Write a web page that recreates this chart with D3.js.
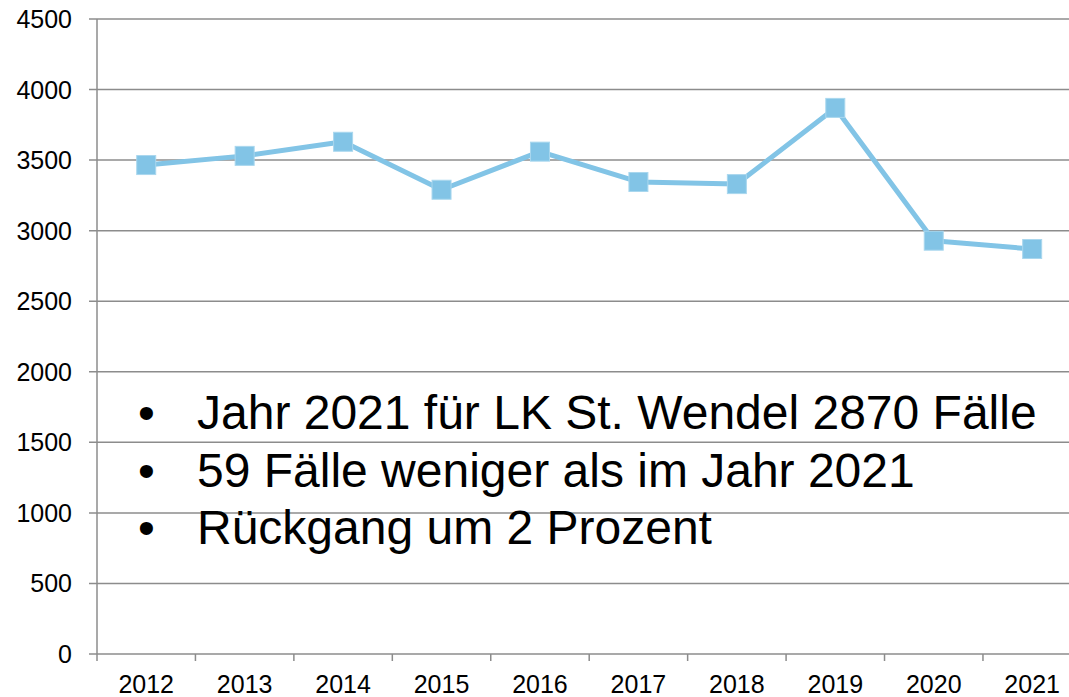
<!DOCTYPE html>
<html>
<head>
<meta charset="utf-8">
<script src="https://cdn.jsdelivr.net/npm/d3@7"></script>
<style>
  html, body { margin: 0; padding: 0; background: #fff; overflow: hidden; }
  svg { display: block; font-family: "Liberation Sans", Arial, sans-serif; }
</style>
</head>
<body>
<div id="chart"></div>
<script>
const years = ["2012", "2013", "2014", "2015", "2016", "2017", "2018", "2019", "2020", "2021"];
const cases = [3465, 3530, 3630, 3290, 3560, 3345, 3330, 3870, 2929, 2870];
const yTicks = [0, 500, 1000, 1500, 2000, 2500, 3000, 3500, 4000, 4500];
const notes = [
  "Jahr 2021 für LK St. Wendel 2870 Fälle",
  "59 Fälle weniger als im Jahr 2021",
  "Rückgang um 2 Prozent"
];

const width = 1069;
const height = 697;
const left = 97;
const step = 98.44;

const svg = d3.select("#chart")
  .append("svg")
  .attr("width", width)
  .attr("height", height);

const x = d3.scaleBand()
  .domain(years)
  .range([left, left + step * years.length]);

const y = d3.scaleLinear()
  .domain([0, 4500])
  .range([654, 19]);

// gridlines
svg.append("g")
  .selectAll("line")
  .data(yTicks)
  .enter()
  .append("line")
  .attr("x1", left - 8)
  .attr("x2", width)
  .attr("y1", (d) => y(d))
  .attr("y2", (d) => y(d))
  .style("stroke", "#8c8c8c")
  .style("stroke-width", 1.5);

// y axis line
svg.append("line")
  .attr("x1", left)
  .attr("x2", left)
  .attr("y1", y(4500))
  .attr("y2", y(0))
  .style("stroke", "#8c8c8c")
  .style("stroke-width", 1.5);

// y tick labels
svg.append("g")
  .selectAll("text")
  .data(yTicks)
  .enter()
  .append("text")
  .attr("x", 72)
  .attr("y", (d) => y(d))
  .attr("dy", "0.36em")
  .attr("text-anchor", "end")
  .style("font-size", "25px")
  .style("fill", "#000")
  .text((d) => d);

// x tick marks between categories
svg.append("g")
  .selectAll("line")
  .data(years)
  .enter()
  .append("line")
  .attr("x1", (d) => x(d))
  .attr("x2", (d) => x(d))
  .attr("y1", y(0))
  .attr("y2", y(0) + 7)
  .style("stroke", "#8c8c8c")
  .style("stroke-width", 1.5);

// x labels (sit right at the bottom edge, as in the original slide)
svg.append("g")
  .selectAll("text")
  .data(years)
  .enter()
  .append("text")
  .attr("x", (d) => x(d) + x.bandwidth() / 2)
  .attr("y", 693)
  .attr("text-anchor", "middle")
  .style("font-size", "25px")
  .style("fill", "#000")
  .text((d) => d);

// series
const points = years.map((yr, i) => ({ year: yr, value: cases[i] }));

const line = d3.line()
  .x((d) => x(d.year) + x.bandwidth() / 2)
  .y((d) => y(d.value));

svg.append("path")
  .datum(points)
  .attr("d", line)
  .style("fill", "none")
  .style("stroke", "#82c4e6")
  .style("stroke-width", 5)
  .style("stroke-linejoin", "round");

const size = 19;
svg.append("g")
  .selectAll("rect")
  .data(points)
  .enter()
  .append("rect")
  .attr("x", (d) => x(d.year) + x.bandwidth() / 2 - size / 2)
  .attr("y", (d) => y(d.value) - size / 2)
  .attr("width", size)
  .attr("height", size)
  .style("fill", "#82c4e6")
  .style("stroke", "#a9d7ee")
  .style("stroke-width", 1);

// bullet text overlay
const notesG = svg.append("g").style("font-size", "48px").style("fill", "#000");
notes.forEach((t, i) => {
  notesG.append("text")
    .attr("x", 138)
    .attr("y", 429 + i * 57.5)
    .text("•");
  notesG.append("text")
    .attr("x", 197)
    .attr("y", 429 + i * 57.5)
    .text(t);
});
</script>
</body>
</html>
